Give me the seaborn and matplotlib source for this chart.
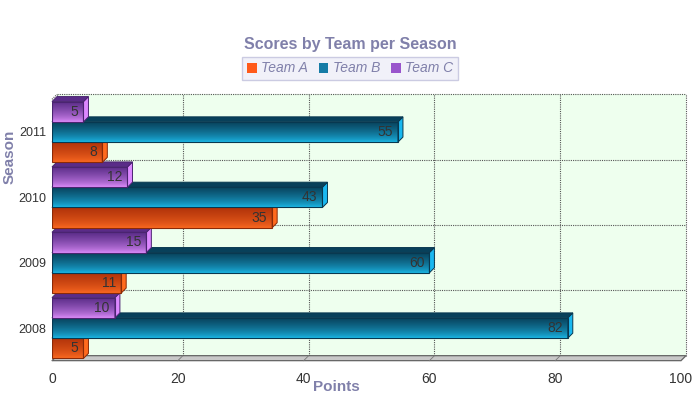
import matplotlib
matplotlib.use('Agg')
import matplotlib.pyplot as plt
import seaborn as sns
import pandas as pd
import numpy as np
from matplotlib.patches import Polygon, Patch
from matplotlib.colors import to_rgb

seasons = ['2008', '2009', '2010', '2011']
teams = ['Team A', 'Team B', 'Team C']
team_a = [5, 11, 35, 8]
team_b = [82, 60, 43, 55]
team_c = [10, 15, 12, 5]
x_ticks = [0, 20, 40, 60, 80, 100]

df = pd.DataFrame({
    'Season': seasons * 3,
    'Team': [t for t in teams for _ in seasons],
    'Points': team_a + team_b + team_c,
})

plt.rcParams['font.family'] = ['Liberation Sans', 'DejaVu Sans']
fig = plt.figure(figsize=(7, 4), dpi=100)
fig.patch.set_facecolor('white')
ax = fig.add_axes([52 / 700, 1 - 360.7 / 400, 629 / 700, 261.4 / 400])

legend_cols = {'Team A': '#ff5a1a', 'Team B': '#167ca6', 'Team C': '#9955cc'}
dark_cols = {'Team A': '#b0320a', 'Team B': '#08405a', 'Team C': '#5a2c88'}
bright_cols = {'Team A': '#ff6c22', 'Team B': '#1cbcec', 'Team C': '#e290ff'}
side_cols = {'Team A': '#ff6a1e', 'Team B': '#1ab8f0', 'Team C': '#dd88ff'}
edge_cols = {'Team A': '#8a2a08', 'Team B': '#083850', 'Team C': '#4a2470'}

sns.barplot(data=df, y='Season', x='Points', hue='Team', order=seasons,
            hue_order=teams, orient='h', width=0.93, palette=legend_cols,
            ax=ax, legend=False, saturation=1)

ax.set_xlim(0, 100)
ax.set_ylim(-0.5, 3.5)

dx = 5 / 6.29
dy = 5 / 65.35

ax.set_facecolor('#eeffee')
back = Polygon([(dx, -0.5 + dy), (100 + dx, -0.5 + dy), (100 + dx, 3.5 + dy), (dx, 3.5 + dy)],
               closed=True, facecolor='#eeffee', edgecolor='none', zorder=0.5, clip_on=False)
ax.add_patch(back)
for xv in x_ticks:
    ax.plot([xv + dx, xv + dx], [-0.5 + dy, 3.5 + dy], ls=(0, (1, 1)), color='#555555',
            lw=0.8, zorder=1, clip_on=False)
    ax.plot([xv, xv + dx], [-0.5, -0.5 + dy], color='#777777', lw=0.6, zorder=2.5, clip_on=False)
for yv in [0.5, 1.5, 2.5, 3.5]:
    ax.plot([dx, 100 + dx], [yv + dy, yv + dy], ls=(0, (1, 1)), color='#555555',
            lw=0.8, zorder=1, clip_on=False)
ax.plot([0, dx], [3.5, 3.5 + dy], ls=(0, (1, 1)), color='#555555', lw=0.8, zorder=1, clip_on=False)

floor = Polygon([(0, -0.5), (100, -0.5), (100 + dx, -0.5 + dy), (dx, -0.5 + dy)], closed=True,
                facecolor='#c8c8c8', edgecolor='#555555', lw=0.8, zorder=2, clip_on=False)
ax.add_patch(floor)

for hi, (team, cont) in enumerate(zip(teams, ax.containers)):
    for ci, p in enumerate(cont.patches):
        z = 3 + ci * 0.1 + hi * 0.01
        x0, y0, w, h = p.get_x(), p.get_y(), p.get_width(), p.get_height()
        p.set_facecolor('none')
        p.set_edgecolor(edge_cols[team])
        p.set_linewidth(0.8)
        p.set_zorder(z + 0.002)
        t = np.linspace(0, 1, 64)[:, None] ** 0.65
        b = np.array(to_rgb(bright_cols[team]))
        d = np.array(to_rgb(dark_cols[team]))
        img = (b[None, :] * (1 - t) + d[None, :] * t)[:, None, :]
        im = ax.imshow(img, extent=[x0, x0 + w, y0, y0 + h], origin='lower', aspect='auto',
                       interpolation='bilinear', zorder=z)
        im.set_clip_path(p)
        side = Polygon([(x0 + w, y0), (x0 + w + dx, y0 + dy), (x0 + w + dx, y0 + h + dy), (x0 + w, y0 + h)],
                       closed=True, facecolor=side_cols[team], edgecolor=edge_cols[team], lw=0.7,
                       zorder=z + 0.001, clip_on=False)
        top = Polygon([(x0, y0 + h), (x0 + w, y0 + h), (x0 + w + dx, y0 + h + dy), (x0 + dx, y0 + h + dy)],
                      closed=True, facecolor=dark_cols[team], edgecolor=edge_cols[team], lw=0.7,
                      zorder=z + 0.001, clip_on=False)
        ax.add_patch(side)
        ax.add_patch(top)
        ax.text(x0 + w - 0.8, y0 + h / 2, f'{int(round(w))}', ha='right', va='center',
                color='#333333', fontsize=10, zorder=10)

ax.set_xlim(0, 100)
ax.set_ylim(-0.5, 3.5)
ax.set_xticks(x_ticks)
ax.set_xticklabels([str(v) for v in x_ticks])
ax.set_yticks(range(len(seasons)))
ax.set_yticklabels(seasons)
ax.tick_params(axis='x', length=0, labelsize=10, labelcolor='#333333', pad=8)
ax.tick_params(axis='y', length=0, labelsize=9, labelcolor='#333333', pad=4)
ax.set_xlabel('')
ax.set_ylabel('')
for s in ax.spines.values():
    s.set_visible(False)

fig.text(350 / 700, 1 - 45 / 400, 'Scores by Team per Season', ha='center', va='center',
         fontsize=11.5, fontweight='bold', color='#8080aa')
fig.text(336 / 700, 1 - 387 / 400, 'Points', ha='center', va='center',
         fontsize=11, fontweight='bold', color='#8080aa')
fig.text(10 / 700, 1 - 157 / 400, 'Season', ha='center', va='center', rotation=90,
         fontsize=11, fontweight='bold', color='#8080aa')

handles = [Patch(facecolor=legend_cols[t], edgecolor='none', label=t) for t in teams]
leg = fig.legend(handles=handles, loc='center', bbox_to_anchor=(350 / 700, 1 - 68.5 / 400), ncol=3,
                 frameon=True, fancybox=False, handlelength=0.7, handleheight=0.7,
                 handletextpad=0.3, columnspacing=0.8, borderpad=0.35,
                 prop={'style': 'italic', 'size': 10}, labelcolor='#8080aa')
leg.get_frame().set_facecolor('#eeeef8')
leg.get_frame().set_edgecolor('#c0c0dc')
leg.get_frame().set_linewidth(1)

fig.savefig('out.png', dpi=100)
